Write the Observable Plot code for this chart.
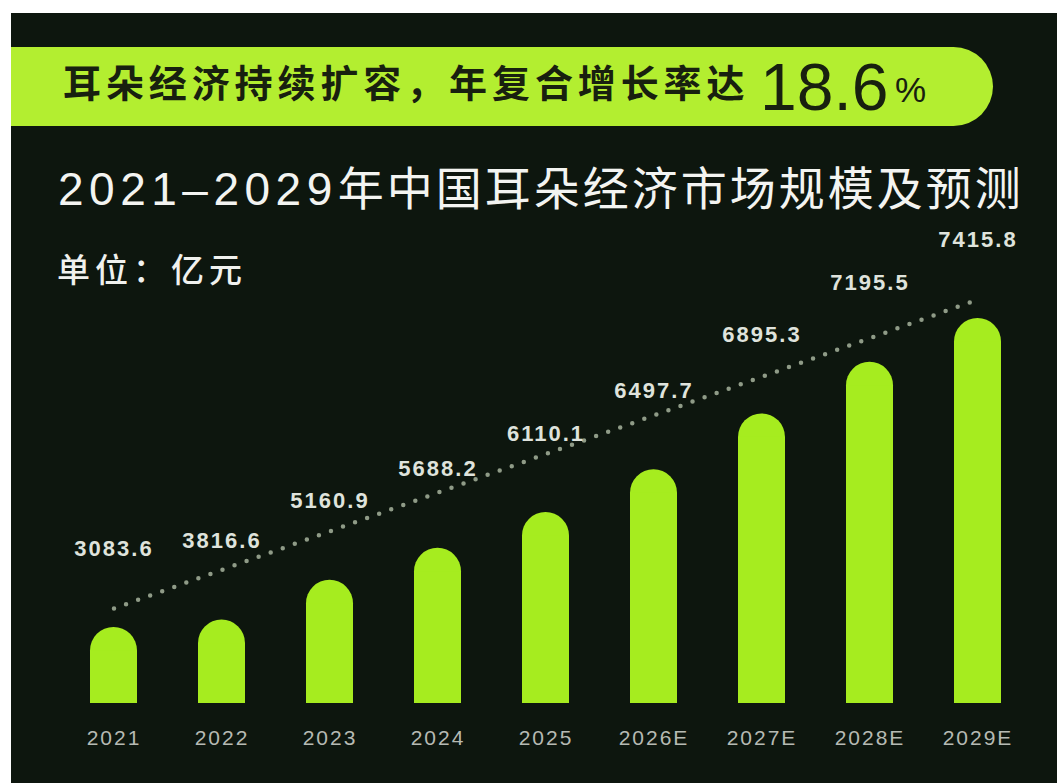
<!DOCTYPE html>
<html>
<head>
<meta charset="utf-8">
<script src="https://cdn.jsdelivr.net/npm/d3@7"></script>
<script src="https://cdn.jsdelivr.net/npm/@observablehq/plot@0.6"></script>
<style>
  html, body { margin: 0; padding: 0; background: #ffffff; width: 1057px; height: 783px; overflow: hidden; }
  #card { position: absolute; left: 11px; top: 13px; width: 1046px; height: 770px; background: #0d160e; overflow: hidden; }
  .banner { position: absolute; left: 0; top: 34px; width: 982px; height: 79px; background: #b3ee30; border-radius: 0 40px 40px 0; }
  .banner div { position: absolute; white-space: nowrap; line-height: 1; color: #18200f; }
  .b-text { left: 52px; top: 15px; font: 700 38px "Noto Sans CJK SC", sans-serif; letter-spacing: 4.9px; }
  .b-num { left: 749px; top: 7px; font: 400 66px "Liberation Sans", Arial, sans-serif; }
  .b-pct { left: 884px; top: 25px; font: 400 35px "Liberation Sans", Arial, sans-serif; }
  .title { position: absolute; left: 47px; top: 149px; white-space: nowrap; line-height: 46px; font-size: 46px; color: #f3f4f1; font-family: "Liberation Sans", "Noto Sans CJK SC", sans-serif; }
  .title .yr { font-family: "Liberation Sans", Arial, sans-serif; letter-spacing: 5.5px; }
  .title .zh { font-family: "Noto Sans CJK SC", sans-serif; letter-spacing: 3px; }
  .unit { position: absolute; left: 46px; top: 231px; white-space: nowrap; line-height: 1; font: 500 33px "Noto Sans CJK SC", sans-serif; letter-spacing: 5px; color: #f0f1ee; }
  #chart { position: absolute; left: 0; top: 190px; }
  #chart g[aria-label="text"] text { letter-spacing: 2px; }
  #chart g[aria-label="x-axis tick label"] text { letter-spacing: 2px; }
</style>
</head>
<body>
<div id="card">
  <div class="banner">
    <div class="b-text">耳朵经济持续扩容，年复合增长率达</div>
    <div class="b-num">18.6</div>
    <div class="b-pct">%</div>
  </div>
  <div class="title"><span class="yr">2021–2029</span><span class="zh">年中国耳朵经济市场规模及预测</span></div>
  <div class="unit">单位：亿元</div>
  <div id="chart"></div>
</div>
<script>
// Data (亿元)
const years = ["2021", "2022", "2023", "2024", "2025", "2026E", "2027E", "2028E", "2029E"];
const values = [3083.6, 3816.6, 5160.9, 5688.2, 6110.1, 6497.7, 6895.3, 7195.5, 7415.8];

const data = years.map((year, i) => ({year, value: values[i]}));

// The original graphic exaggerates growth: bars are drawn on a steep power scale
// whose floor lies below zero.
const yFloor = -5530;
const capR = 23.5;
const barColor = "#a6ec1f";

const chart = Plot.plot({
  width: 1046,
  height: 580,
  marginTop: 115,
  marginBottom: 80,
  marginLeft: 45,
  marginRight: 22,
  style: {background: "transparent", color: "#b6bab3", fontFamily: "'Liberation Sans', Arial, sans-serif"},
  x: {domain: years, paddingInner: 0.566, paddingOuter: 0.3, label: null},
  y: {type: "pow", exponent: 5, domain: [yFloor, d3.max(values)], axis: null},
  marks: [
    Plot.line([data[0], data[data.length - 1]], {
      x: "year", y: "value", dy: -19,
      stroke: "#8f9b87", strokeWidth: 4.5, strokeDasharray: "0 12.8", strokeLinecap: "round"
    }),
    // rounded-top bars: a fully rounded bar plus a square bar covering its lower corners
    Plot.barY(data, {x: "year", y1: yFloor, y2: "value", fill: barColor, rx: capR}),
    Plot.barY(data, {x: "year", y1: yFloor, y2: "value", fill: barColor, insetTop: capR}),
    Plot.text(data, {
      x: "year", y: "value", text: d => d.value.toFixed(1), dy: -79,
      fill: "#dfe3dc", fontSize: 22, fontWeight: "bold"
    }),
    Plot.axisX({tickSize: 0, tickPadding: 27, fontSize: 21, fill: "#b6bab3", label: null})
  ]
});
document.getElementById("chart").appendChild(chart);
</script>
</body>
</html>
